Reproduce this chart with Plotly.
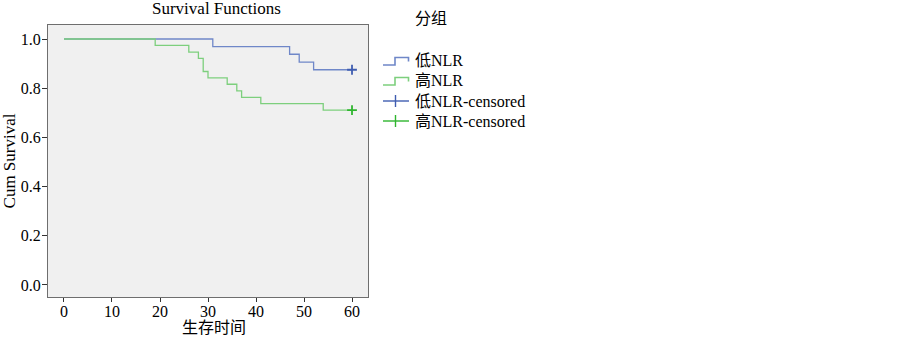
import plotly.graph_objects as go

# Kaplan-Meier step data
low_times = [0, 31, 47, 49, 52, 60]
low_surv = [1.0, 0.969, 0.938, 0.906, 0.875, 0.875]
high_times = [0, 19, 26, 28, 29, 30, 34, 36, 37, 41, 54, 60]
high_surv = [1.0, 0.974, 0.947, 0.921, 0.868, 0.842, 0.816, 0.789, 0.763, 0.737, 0.711, 0.711]
low_cens_t = [60]
low_cens_s = [0.875]
high_cens_t = [60]
high_cens_s = [0.711]

x_ticks = [0, 10, 20, 30, 40, 50, 60]
y_ticks = [0.0, 0.2, 0.4, 0.6, 0.8, 1.0]
y_tick_labels = ["0.0", "0.2", "0.4", "0.6", "0.8", "1.0"]
legend_names = ["低NLR", "高NLR", "低NLR-censored", "高NLR-censored"]

FONT = "Liberation Serif, Times New Roman, Noto Sans CJK SC, serif"
BLUE_LINE = "#6f87c8"
GREEN_LINE = "#7dcf7d"
BLUE_MARK = "#3f5db0"
GREEN_MARK = "#2fb52f"

W, H = 903, 337
L, R, T, B = 48, 535, 25, 40
PW, PH = W - L - R, H - T - B


def px(x):
    return (x - L) / PW


def py(y):
    return 1 - (y - T) / PH


fig = go.Figure()
fig.add_trace(go.Scatter(x=low_times, y=low_surv, mode="lines",
                         line=dict(shape="hv", color=BLUE_LINE, width=1.3), name=legend_names[0]))
fig.add_trace(go.Scatter(x=high_times, y=high_surv, mode="lines",
                         line=dict(shape="hv", color=GREEN_LINE, width=1.3), name=legend_names[1]))
fig.add_trace(go.Scatter(x=low_cens_t, y=low_cens_s, mode="markers", name=legend_names[2],
                         marker=dict(symbol="cross-thin", size=7, line=dict(color=BLUE_MARK, width=1.8))))
fig.add_trace(go.Scatter(x=high_cens_t, y=high_cens_s, mode="markers", name=legend_names[3],
                         marker=dict(symbol="cross-thin", size=7, line=dict(color=GREEN_MARK, width=1.8))))

# manual legend (keys and labels)
shapes = []
annotations = []
row_y = [61, 81, 101, 121]
key_colors = [BLUE_LINE, GREEN_LINE, BLUE_MARK, GREEN_MARK]
for i, (name, yc, col) in enumerate(zip(legend_names, row_y, key_colors)):
    if i < 2:
        path = (f"M {px(383)},{py(yc + 4)} L {px(395)},{py(yc + 4)} L {px(395)},{py(yc - 3.5)} "
                f"L {px(408.5)},{py(yc - 3.5)} L {px(408.5)},{py(yc + 0.5)}")
        shapes.append(dict(type="path", xref="paper", yref="paper", path=path,
                           line=dict(color=col, width=1.6)))
    else:
        shapes.append(dict(type="line", xref="paper", yref="paper", x0=px(383), x1=px(409),
                           y0=py(yc), y1=py(yc), line=dict(color=col, width=1.4)))
        shapes.append(dict(type="line", xref="paper", yref="paper", x0=px(395.5), x1=px(395.5),
                           y0=py(yc - 6), y1=py(yc + 6), line=dict(color=col, width=1.4)))
    annotations.append(dict(text=name, xref="paper", yref="paper", x=px(413), y=py(yc),
                            xanchor="left", yanchor="middle", showarrow=False,
                            font=dict(family=FONT, size=16)))

annotations.append(dict(text="分组", xref="paper", yref="paper", x=px(413), y=py(18),
                        xanchor="left", yanchor="middle", showarrow=False, font=dict(family=FONT, size=16)))
annotations.append(dict(text="Survival Functions", xref="paper", yref="paper", x=px(216), y=py(8),
                        xanchor="center", yanchor="middle", showarrow=False, font=dict(family=FONT, size=17)))
annotations.append(dict(text="生存时间", xref="paper", yref="paper", x=px(214), y=py(327),
                        xanchor="center", yanchor="middle", showarrow=False, font=dict(family=FONT, size=16)))

fig.update_layout(
    width=W, height=H,
    margin=dict(l=L, r=R, t=T, b=B, autoexpand=False),
    paper_bgcolor="white",
    plot_bgcolor="#f0f0f0",
    font=dict(family=FONT, size=16, color="black"),
    showlegend=False,
    shapes=shapes,
    annotations=annotations,
)
fig.update_xaxes(range=[-3.33, 63.33], tickvals=x_ticks, ticks="outside", ticklen=4, tickcolor="#333",
                 ticklabelstandoff=-4,
                 showgrid=False, zeroline=False, showline=True, mirror=True, linecolor="#6e6e6e", automargin=False)
fig.update_yaxes(range=[-0.049, 1.057], tickvals=y_ticks, ticktext=y_tick_labels, ticks="outside", ticklen=5,
                 tickcolor="#333", ticklabelstandoff=-2,
                 showgrid=False, zeroline=False, showline=True, mirror=True, linecolor="#6e6e6e",
                 automargin=False,
                 title=dict(text="Cum Survival", font=dict(family=FONT, size=17), standoff=0))

fig.write_html("out.html", config={"displayModeBar": False},
               post_script="document.body.style.margin='0';")
